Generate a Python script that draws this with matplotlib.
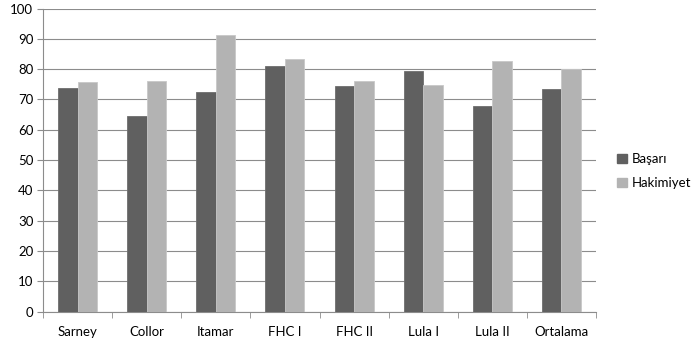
import matplotlib
matplotlib.use("Agg")
import matplotlib.pyplot as plt
import numpy as np
from matplotlib.patches import Patch

categories = ["Sarney", "Collor", "Itamar", "FHC I", "FHC II", "Lula I", "Lula II", "Ortalama"]
basari = [73.7, 64.4, 72.6, 81.1, 74.5, 79.3, 67.9, 73.4]
hakimiyet = [75.9, 76.0, 91.3, 83.3, 76.0, 74.8, 82.8, 80.0]
yticks = list(range(0, 101, 10))

plt.rcParams['font.family'] = ['Lato', 'DejaVu Sans']

fig = plt.figure(figsize=(6.92, 3.42), dpi=100)
ax = fig.add_axes([43 / 692, 1 - 311.7 / 342, (596 - 43) / 692, (311.7 - 8.5) / 342])

x = np.arange(len(categories))
w = 0.283
dark = "#606060"
light = "#b3b3b3"
ax.bar(x - w / 2, basari, w, color=dark, edgecolor="#6e6e6e", linewidth=0.6, zorder=3)
ax.bar(x + w / 2, hakimiyet, w, color=light, edgecolor="#c8c8c8", linewidth=0.6, zorder=3)

ax.set_xlim(-0.5, len(categories) - 0.5)
ax.set_ylim(0, 100)
ax.set_yticks(yticks)
ax.yaxis.grid(True, color="#8c8c8c", linewidth=0.8, zorder=0)
ax.set_axisbelow(True)

ax.set_xticks(x)
ax.set_xticklabels(categories, fontsize=9.5)
ax.set_xticks(np.arange(-0.5, len(categories), 1), minor=True)
ax.tick_params(axis="x", which="major", length=0, pad=10)
ax.tick_params(axis="x", which="minor", length=4, color="#8c8c8c", direction="out")
ax.tick_params(axis="y", length=4, color="#8c8c8c", labelsize=9.5, pad=3)

for side in ["top", "right"]:
    ax.spines[side].set_visible(False)
ax.spines["left"].set_color("#8c8c8c")
ax.spines["bottom"].set_color("#8c8c8c")

handles = [Patch(facecolor=dark, edgecolor=dark, label="Başarı"),
           Patch(facecolor=light, edgecolor=light, label="Hakimiyet")]
fig.legend(handles=handles, loc="center left", bbox_to_anchor=(612 / 692, 1 - 171 / 342),
           frameon=False, fontsize=9.5, handlelength=0.7, handleheight=0.7,
           handletextpad=0.4, labelspacing=0.9, borderaxespad=0)

fig.savefig("out.png", dpi=100, facecolor="white")
